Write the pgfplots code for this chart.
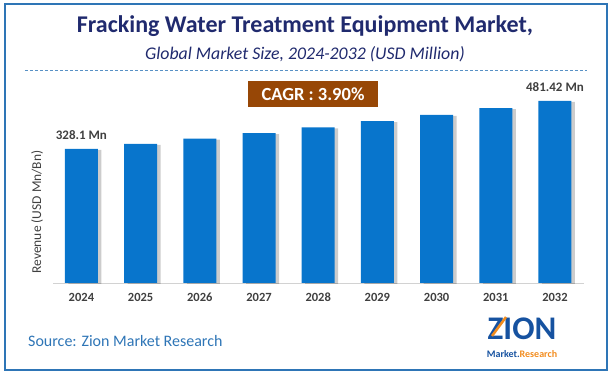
\documentclass[border=0pt]{standalone}
\usepackage{pgfplots}
\pgfplotsset{compat=1.18}
\usepackage{fontspec}
\setmainfont{Carlito}
\usetikzlibrary{shadows}
\definecolor{barblue}{RGB}{8,117,204}
\definecolor{titlenavy}{RGB}{32,42,110}
\definecolor{cagrbrown}{RGB}{151,71,6}
\definecolor{srcblue}{RGB}{46,117,182}
\definecolor{txtgray}{RGB}{64,64,64}
\definecolor{zionblue}{RGB}{22,82,160}
\definecolor{zionorange}{RGB}{242,140,30}
\begin{document}
\begin{tikzpicture}
\begin{scope}[x=1pt,y=1pt]
\path[use as bounding box] (0,0) rectangle (610,377);
\draw[srcblue, line width=1.5pt] (5,7) rectangle (607,373);
\node[anchor=base, font=\bfseries\fontsize{24}{28}\selectfont, text=titlenavy, inner sep=0] at (305,344) {Fracking Water Treatment Equipment Market,};
\node[anchor=base, font=\itshape\fontsize{17.8}{20}\selectfont, text=titlenavy, inner sep=0] at (305,317) {Global Market Size, 2024-2032 (USD Million)};
\draw[srcblue!80, line width=0.8pt, dash pattern=on 3pt off 2pt] (25,307) -- (587,307);
\fill[cagrbrown] (248,270) rectangle (378,296);
\node[font=\bfseries\fontsize{18.5}{20}\selectfont, text=white, inner sep=0] at (313,283) {CAGR : 3.90\%};
\node[rotate=90, font=\fontsize{13.5}{16}\selectfont, text=txtgray, inner sep=0] at (37,165) {Revenue (USD Mn/Bn)};
\node[anchor=base west, font=\fontsize{16}{18}\selectfont, text=srcblue, inner sep=0] at (28,30) {Source: Zion Market Research};
% logo
\node[anchor=base, font=\bfseries\fontsize{33}{36}\selectfont, text=zionblue, inner sep=0] at (522,37) {ZION};
\draw[zionorange, line width=2.5pt] (492,41) -- (506,60);
\node[anchor=base, font=\bfseries\fontsize{10}{12}\selectfont, inner sep=0] at (522,19) {\textcolor{zionblue}{Market.}\textcolor{zionorange}{Research}};
\end{scope}
\begin{axis}[
  at={(53pt,94pt)}, anchor=south west, scale only axis,
  width=531pt, height=198pt,
  xmin=-0.48, xmax=8.49, ymin=0, ymax=632.5,
  ybar, bar width=33pt,
  axis y line=none, axis x line*=bottom,
  x axis line style={draw=gray!35, line width=0.8pt, -},
  xtick={0,1,2,3,4,5,6,7,8},
  xticklabels={2024,2025,2026,2027,2028,2029,2030,2031,2032},
  major tick length=0pt,
  xticklabel style={font=\bfseries\fontsize{12.5}{14}\selectfont, text=txtgray, anchor=base, yshift=-19pt},
  y filter/.expression={y+100},
  clip=false,
]
\addplot[fill=barblue, draw=none, bar shift=0pt,
  drop shadow={shadow xshift=3.5pt, shadow yshift=-1pt, fill=black, opacity=0.2}]
  coordinates {(0,328.1) (1,344.2) (2,361.1) (3,378.8) (4,397.4) (5,416.9) (6,437.3) (7,458.8) (8,481.42)};
\addplot[draw=none, fill=none, bar shift=0pt,
  nodes near coords, point meta=explicit symbolic,
  every node near coord/.append style={font=\bfseries\fontsize{13}{15}\selectfont, text=txtgray, anchor=base, yshift=9pt, inner sep=0}]
  coordinates {(0,328.1) [328.1 Mn] (8,481.42) [481.42 Mn]};
\end{axis}
\end{tikzpicture}
\end{document}
